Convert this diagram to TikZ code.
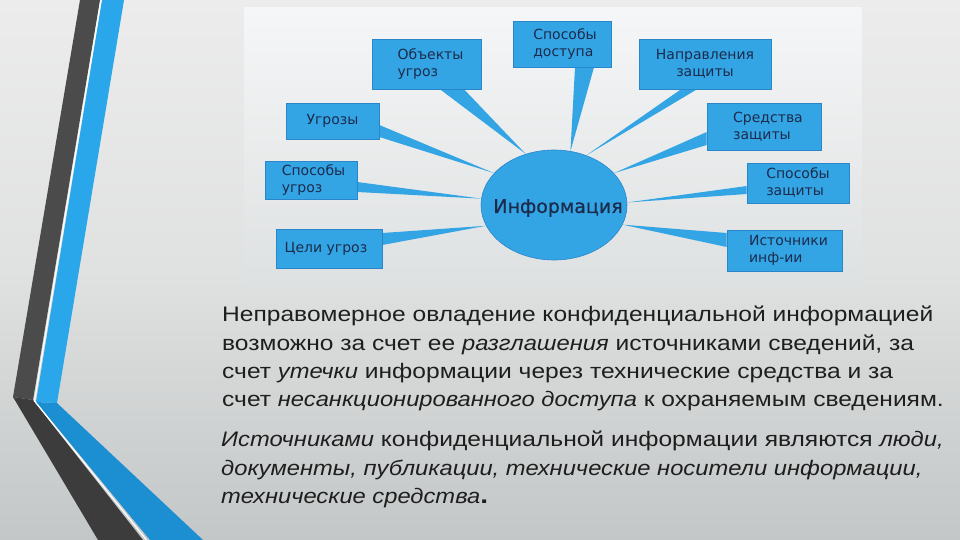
\documentclass[tikz,border=0pt]{standalone}
\usepackage{fontspec}
\setmainfont{Liberation Sans}
\newfontfamily\bodyfont{Liberation Sans}[FakeStretch=1.17, ItalicFeatures={FakeStretch=1.13}]
\newfontfamily\boxfont{DejaVu Sans}
\newfontfamily\infofont{DejaVu Sans}[FakeBold=0.6]
\usetikzlibrary{shapes.geometric}
\definecolor{bgtop}{HTML}{ECECEC}
\definecolor{bgmid}{HTML}{E0E1E1}
\definecolor{bgbot}{HTML}{C3C7C7}
\definecolor{paneltop}{HTML}{F5F6F7}
\definecolor{panelbot}{HTML}{DEE1E1}
\definecolor{boxblue}{HTML}{33A5E5}
\definecolor{boxline}{HTML}{2A86C8}
\definecolor{navy}{HTML}{1C2B4B}
\definecolor{bodytext}{HTML}{1E1E1E}
\definecolor{darkup}{HTML}{4B4B4B}
\definecolor{darklow}{HTML}{3C3C3C}
\definecolor{blueup}{HTML}{2AA6EA}
\definecolor{bluelow}{HTML}{1C8FD2}
\pgfdeclarelayer{back}
\pgfdeclarelayer{tails}
\pgfsetlayers{back,tails,main}
\begin{document}
\begin{tikzpicture}[x=1pt,y=-1pt,
  box/.style={draw=boxline, fill=boxblue, line width=0.6pt, inner sep=0pt,
    font=\boxfont\fontsize{14}{17}\selectfont, text=navy, align=left},
  tail/.style={fill=boxblue},
  line/.style={anchor=base west, inner sep=0pt, text=bodytext,
    font=\bodyfont\fontsize{21}{24}\selectfont}]
\useasboundingbox (0,0) rectangle (960,540);

% nodes
\node[ellipse, draw=boxline, fill=boxblue, line width=0.6pt, inner sep=0pt,
  minimum width=146pt, minimum height=110pt] (info) at (554,205) {};
\node[inner sep=0pt, text=navy, font=\infofont\fontsize{19}{22}\selectfont] (infotext) at (558,208) {Информация};

\node[box, minimum width=109pt, minimum height=50pt] (ob) at (426.5,64) {\hspace*{8pt}Объекты\\\hspace*{8pt}угроз};
\node[box, minimum width=98pt, minimum height=46pt] (sd) at (562,44) {\hspace*{6pt}Способы\\\hspace*{6pt}доступа};
\node[box, align=center, minimum width=132pt, minimum height=50pt] (nz) at (705,64) {Направления\\защиты};
\node[box, minimum width=114pt, minimum height=47pt] (sz) at (764,126.5) {\hspace*{8pt}Средства\\\hspace*{8pt}защиты};
\node[box, minimum width=102pt, minimum height=40pt] (spz) at (798,183) {Способы\\защиты};
\node[box, minimum width=115pt, minimum height=41pt] (ii) at (784.5,250.5) {\hspace*{8pt}Источники\\\hspace*{8pt}инф-ии};
\node[box, minimum width=93pt, minimum height=36pt] (ug) at (332.5,121) {Угрозы};
\node[box, minimum width=92pt, minimum height=38pt] (spu) at (311,180) {\hspace*{5pt}Способы\\\hspace*{5pt}угроз};
\node[box, minimum width=106pt, minimum height=39pt] (cu) at (329,248.5) {Цели угроз\hspace*{6pt}};

% text lines
\node[line] (p1a) at (222,321.7) {Неправомерное овладение конфиденциальной информацией};
\node[line] (p1b) at (222,350) {возможно за счет ее \textit{разглашения} источниками сведений, за};
\node[line] (p1c) at (222,378.3) {счет \textit{утечки} информации через технические средства и за};
\node[line] (p1d) at (222,406.7) {счет \textit{несанкционированного доступа} к охраняемым сведениям.};
\node[line] (p2a) at (221,446.7) {\textit{Источниками} конфиденциальной информации являются \textit{люди,}};
\node[line] (p2b) at (221,475) {\textit{документы, публикации, технические носители информации,}};
\node[line] (p2c) at (221,503.3) {\textit{технические средства}{\upshape\bfseries\fontsize{24}{24}\selectfont.}};

% background
\begin{pgfonlayer}{back}
  \shade[top color=bgtop, bottom color=bgbot, middle color=bgmid] (0,0) rectangle (960,540);
  \shade[top color=paneltop, bottom color=panelbot] (244,8) rectangle (862,285);
  % stripes
  \fill[darkup] (80,0) -- (100,0) -- (33,400) -- (13,397) -- cycle;
  \fill[darklow] (13,397) -- (33,400) -- (143,540) -- (98,540) -- cycle;
  \fill[blueup] (102,0) -- (124,0) -- (57,403) -- (36,402) -- cycle;
  \fill[bluelow] (36,402) -- (57,403) -- (203,540) -- (150,540) -- cycle;
  \draw[white, line width=1.2pt] (101,0) -- (34.5,401) -- (146.5,540);
\end{pgfonlayer}

% tails
\begin{pgfonlayer}{tails}
  \fill[tail] ([xshift=13.5pt]ob.south) -- ([xshift=37.5pt]ob.south) -- (info.119) -- cycle;
  \fill[tail] ([xshift=13pt]sd.south) -- ([xshift=32pt]sd.south) -- (info.73) -- cycle;
  \fill[tail] ([xshift=-24pt]nz.south) -- ([xshift=-8pt]nz.south) -- (info.57) -- cycle;
  \fill[tail] ([yshift=-5.5pt]sz.west) -- ([yshift=-18.5pt]sz.west) -- (info.28) -- cycle;
  \fill[tail] ([yshift=-3pt]spz.west) -- ([yshift=-11pt]spz.west) -- (info.2) -- cycle;
  \fill[tail] ([yshift=17.5pt]ii.west) -- ([yshift=3.5pt]ii.west) -- (info.344) -- cycle;
  \fill[tail] ([yshift=15.5pt]cu.east) -- ([yshift=3.5pt]cu.east) -- (info.197) -- cycle;
  \fill[tail] ([yshift=-2pt]spu.east) -- ([yshift=-12pt]spu.east) -- (info.175) -- cycle;
  \fill[tail] ([yshift=-4pt]ug.east) -- ([yshift=-16pt]ug.east) -- (info.152) -- cycle;
\end{pgfonlayer}
\end{tikzpicture}
\end{document}
